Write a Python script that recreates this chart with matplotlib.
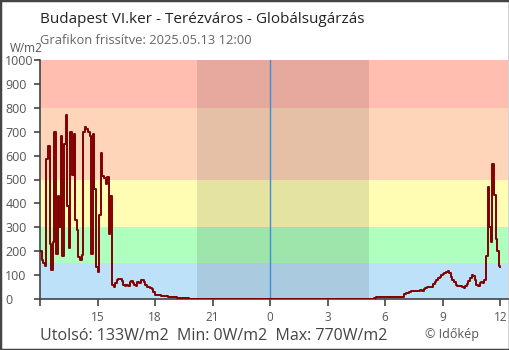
import matplotlib
matplotlib.use("Agg")
import matplotlib.pyplot as plt
import matplotlib.dates as mdates
from matplotlib.patches import Rectangle
import pandas as pd

plt.rcParams['font.family'] = ['Open Sans', 'DejaVu Sans']

# measured values, 5 minute steps
pm_start = "2025-05-12 12:00"
pm_values = [200, 165, 150, 140, 585, 640, 230, 120, 240, 700,
             190, 430, 300, 680, 180, 650, 770, 390, 215, 700,
             520, 690, 330, 290, 175, 165, 185, 700, 720, 710,
             700, 680, 190, 690, 460, 135, 115, 350, 610, 515,
             505, 480, 510, 270, 430, 60, 50, 65, 80, 85,
             85, 75, 60, 55, 60, 55, 70, 75, 65, 60,
             55, 70, 65, 80, 78, 70, 60, 50, 50, 45,
             40, 30, 16, 16, 15, 15, 14, 13, 12, 12,
             10, 9, 9, 8, 8, 7, 6, 6, 5, 5,
             4, 3, 3, 2, 2, 1, 1, 1, 0, 0]
am_start = "2025-05-13 05:00"
am_values = [0, 0, 0, 0, 0, 3, 7, 7, 7, 8,
             7, 7, 8, 8, 7, 8, 8, 9, 9, 8,
             9, 8, 9, 10, 19, 25, 27, 30, 34, 35,
             35, 34, 33, 35, 36, 35, 42, 48, 50, 50,
             50, 52, 62, 72, 80, 88, 92, 100, 104, 108,
             112, 118, 108, 90, 80, 70, 60, 55, 54, 54,
             52, 48, 55, 62, 75, 88, 100, 95, 78, 60,
             55, 68, 70, 68, 78, 180, 470, 300, 240, 563,
             437, 250, 200, 140, 133]

sunset = pd.Timestamp("2025-05-12 20:12")
sunrise = pd.Timestamp("2025-05-13 05:09")
midnight = pd.Timestamp("2025-05-13 00:00")
x_start = pd.Timestamp("2025-05-12 12:00")
x_end = pd.Timestamp("2025-05-13 12:24")

band_edges = [0, 150, 300, 500, 800, 1000]
band_colors = ['#bee1fa', '#afffbe', '#fffdb4', '#ffd5b9', '#ffbeaf']

t = list(pd.date_range(pm_start, periods=len(pm_values), freq="5min")) + \
    list(pd.date_range(am_start, periods=len(am_values), freq="5min"))
v = pm_values + am_values

fig = plt.figure(figsize=(5.1, 3.5), dpi=100)
ax = fig.add_axes([40/510, 51/350, 468/510, 239/350])

for lo, hi, c in zip(band_edges[:-1], band_edges[1:], band_colors):
    ax.axhspan(lo, hi, color=c, lw=0, zorder=0)
ax.axvspan(sunset, sunrise, color='black', alpha=0.1, lw=0, zorder=1)
ax.axvline(midnight, color='#3b8fd3', lw=1, zorder=2)
ax.plot(t, v, color='#800000', lw=1.4, drawstyle='steps-post', zorder=3)

ax.set_xlim(x_start, x_end)
ax.set_ylim(0, 1000)
ax.set_yticks(range(0, 1001, 100))

ax.xaxis.set_major_locator(mdates.HourLocator(byhour=range(0, 24, 3)))
def hour_label(x, pos):
    d = mdates.num2date(x)
    if abs(x - mdates.date2num(x_start)) < 1e-6:
        return ""
    return str(d.hour)
ax.xaxis.set_major_formatter(plt.FuncFormatter(hour_label))

for s in ['top', 'right']:
    ax.spines[s].set_visible(False)
for s in ['left', 'bottom']:
    ax.spines[s].set_color('#444444')
    ax.spines[s].set_linewidth(1.2)
    ax.spines[s].set_zorder(2.5)

ax.tick_params(axis='y', length=4, width=1.2, color='#444444', labelcolor='#555555',
               labelsize=9, pad=21)
ax.tick_params(axis='x', length=5, width=1.2, color='#444444', labelcolor='#555555',
               labelsize=8.5, pad=3.5)
for lab in ax.get_yticklabels():
    lab.set_horizontalalignment('left')

fig.text(40/510, 1 - 23/350, "Budapest VI.ker - Terézváros - Globálsugárzás",
         fontsize=11, color='#222222', va='baseline')
fig.text(40/510, 1 - 44/350, "Grafikon frissítve: 2025.05.13 12:00",
         fontsize=9.3, color='#666666', va='baseline')
fig.text(10/510, 1 - 52/350, "W/m2", fontsize=8.5, color='#555555', va='baseline')
fig.text(40/510, 1 - 340/350, "Utolsó: 133W/m2  Min: 0W/m2  Max: 770W/m2",
         fontsize=11.5, color='#444444', va='baseline')
fig.text(425/510, 1 - 338/350, "© Időkép", fontsize=9, color='#555555', va='baseline')

fig.patches.append(Rectangle((0, 0), 1, 1, transform=fig.transFigure, fill=False,
                             ec='#444444', lw=2.5))

fig.savefig("out.png", dpi=100)
